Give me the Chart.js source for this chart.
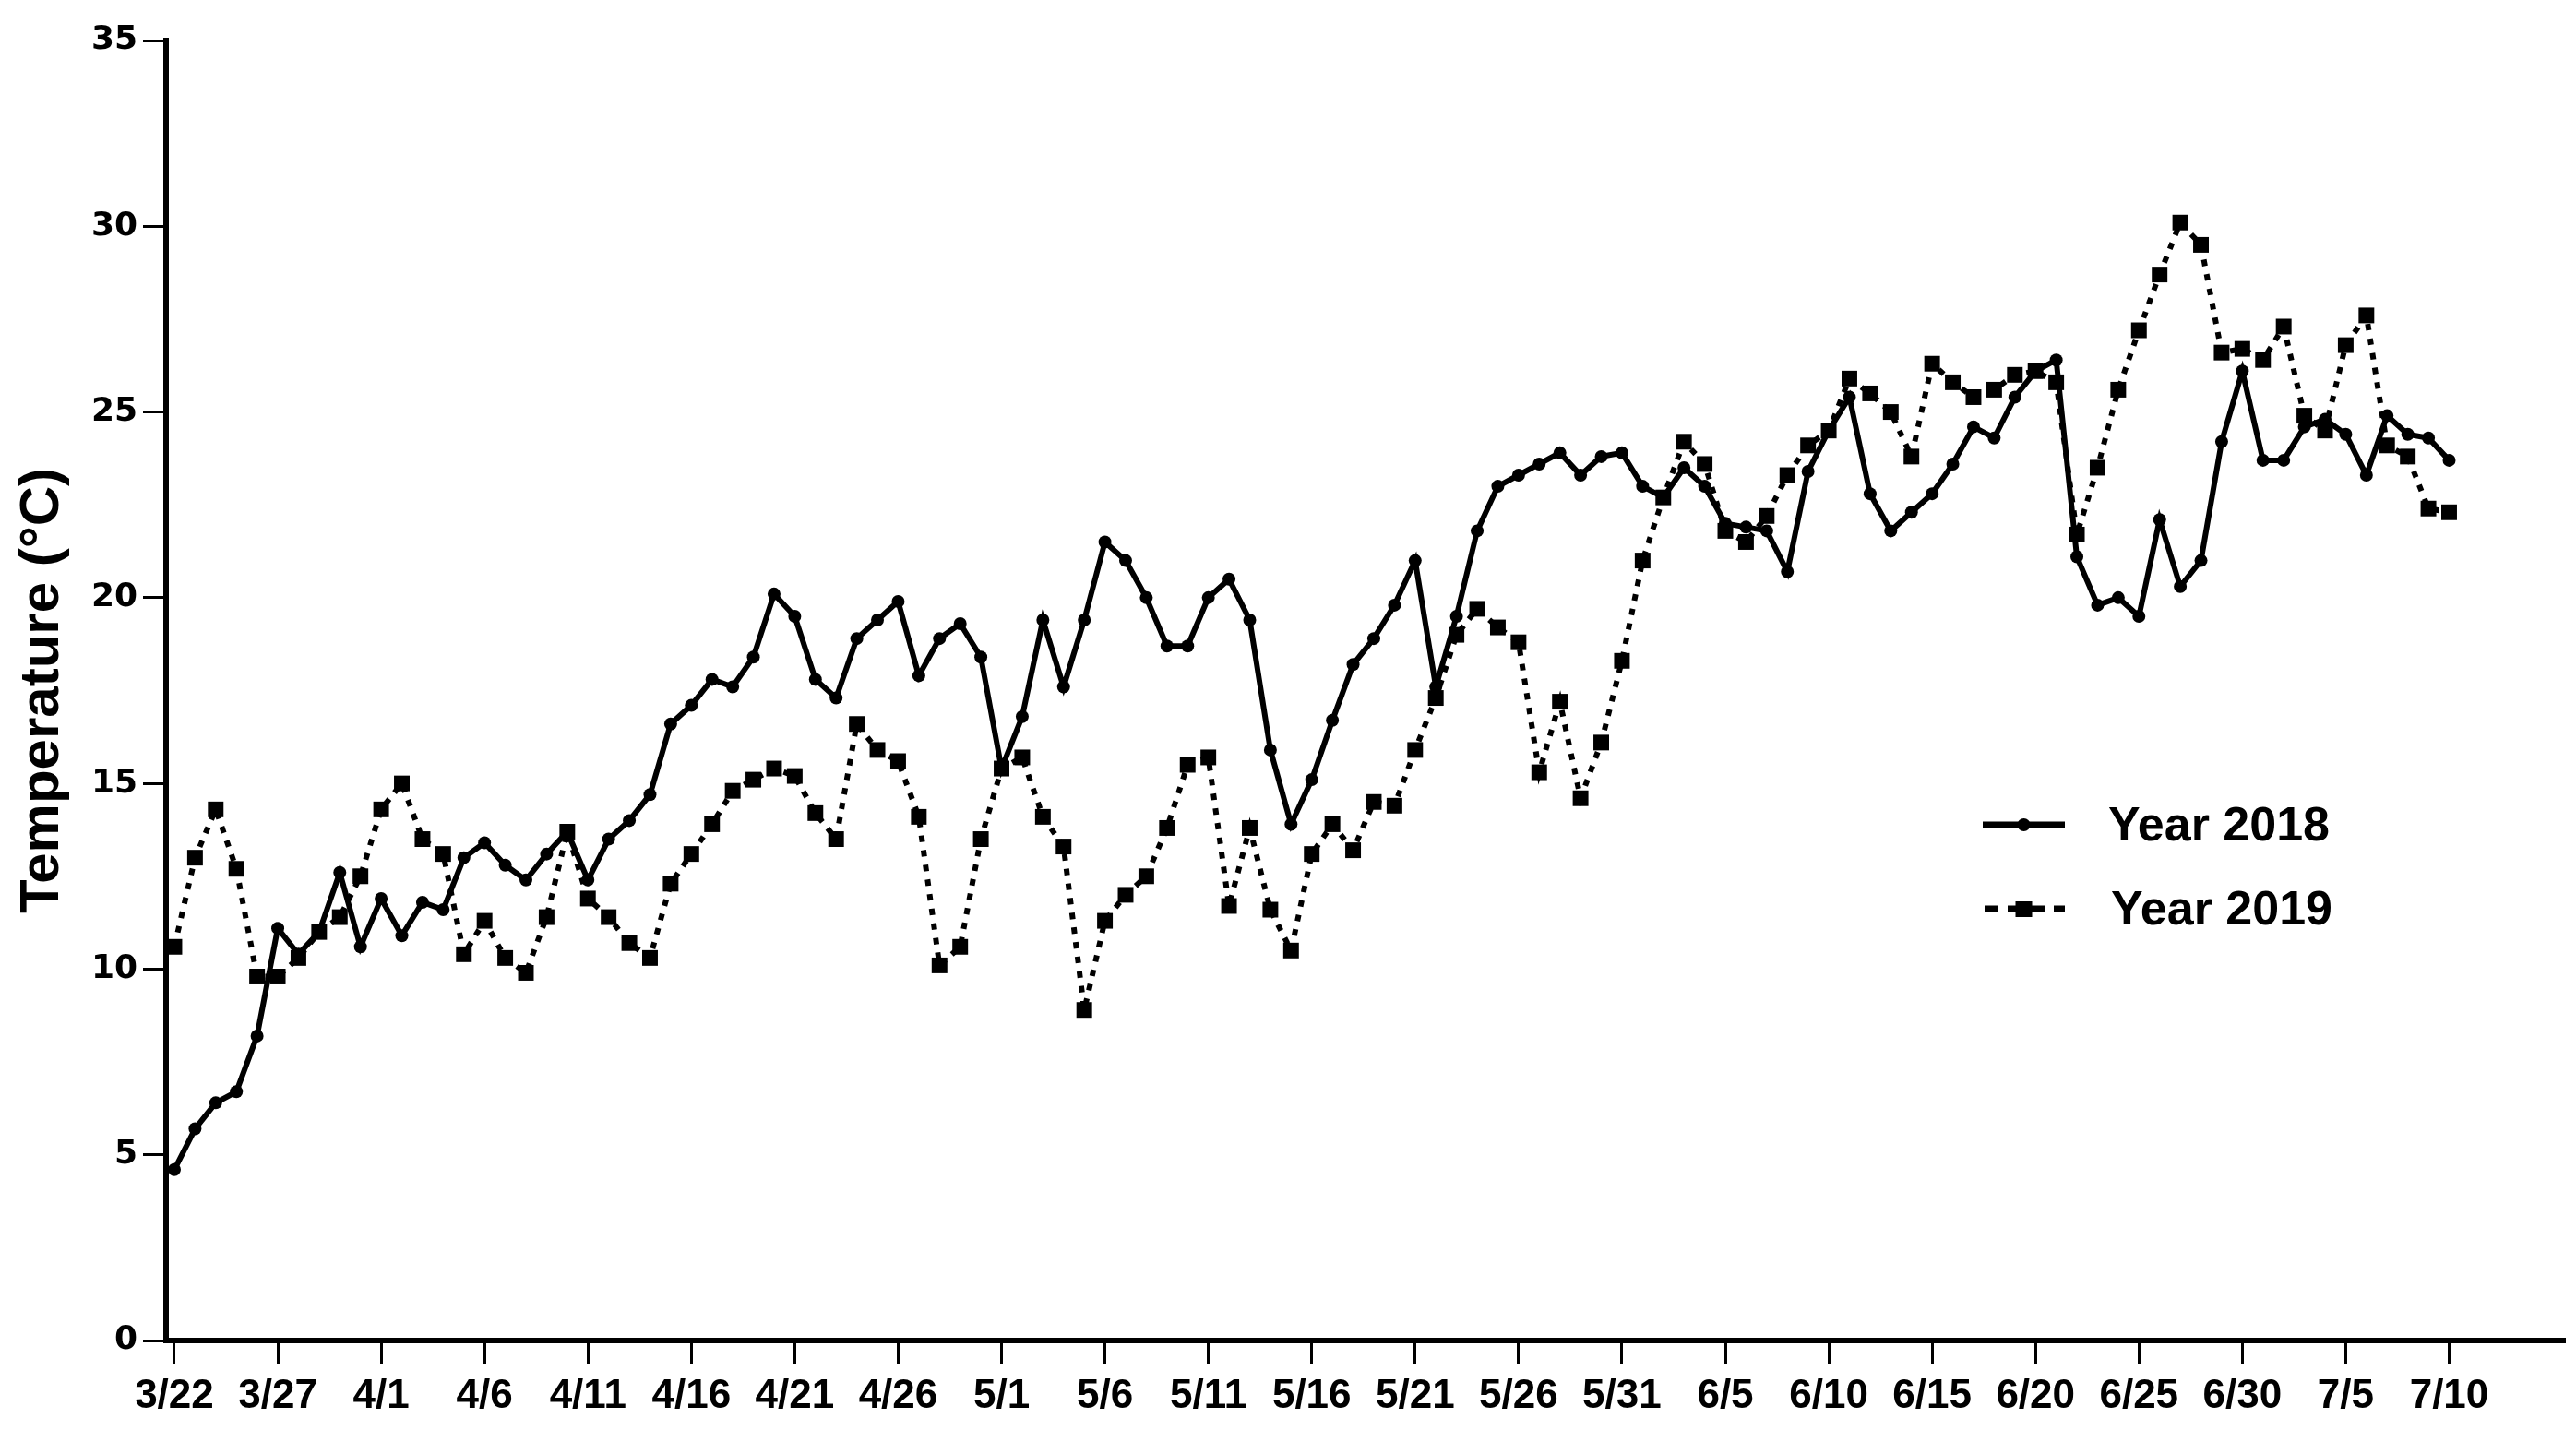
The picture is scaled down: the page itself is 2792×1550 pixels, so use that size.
<!DOCTYPE html>
<html>
<head>
<meta charset="utf-8">
<title>Temperature 2018 vs 2019</title>
<script src="https://cdn.jsdelivr.net/npm/chart.js@4.4.0/dist/chart.umd.min.js"></script>
<style>
  html, body { margin: 0; padding: 0; background: #fff; }
  #wrap { width: 2792px; height: 1550px; }
</style>
</head>
<body>
<div id="wrap"><canvas id="chart" width="2792" height="1550"></canvas></div>
<script>
// tick labels, one every 5 days starting 3/22
const dateTicks = ['3/22', '3/27', '4/1', '4/6', '4/11', '4/16', '4/21', '4/26', '5/1', '5/6', '5/11', '5/16',
  '5/21', '5/26', '5/31', '6/5', '6/10', '6/15', '6/20', '6/25', '6/30', '7/5', '7/10'];

// daily mean temperature (°C), 3/22 .. 7/10
const temp2018 = [
  4.6, 5.7, 6.4, 6.7, 8.2, 11.1, 10.4, 11.0, 12.6, 10.6,
  11.9, 10.9, 11.8, 11.6, 13.0, 13.4, 12.8, 12.4, 13.1, 13.7,
  12.4, 13.5, 14.0, 14.7, 16.6, 17.1, 17.8, 17.6, 18.4, 20.1,
  19.5, 17.8, 17.3, 18.9, 19.4, 19.9, 17.9, 18.9, 19.3, 18.4,
  15.4, 16.8, 19.4, 17.6, 19.4, 21.5, 21.0, 20.0, 18.7, 18.7,
  20.0, 20.5, 19.4, 15.9, 13.9, 15.1, 16.7, 18.2, 18.9, 19.8,
  21.0, 17.6, 19.5, 21.8, 23.0, 23.3, 23.6, 23.9, 23.3, 23.8,
  23.9, 23.0, 22.7, 23.5, 23.0, 22.0, 21.9, 21.8, 20.7, 23.4,
  24.5, 25.4, 22.8, 21.8, 22.3, 22.8, 23.6, 24.6, 24.3, 25.4,
  26.1, 26.4, 21.1, 19.8, 20.0, 19.5, 22.1, 20.3, 21.0, 24.2,
  26.1, 23.7, 23.7, 24.6, 24.8, 24.4, 23.3, 24.9, 24.4, 24.3,
  23.7
];

const temp2019 = [
  10.6, 13.0, 14.3, 12.7, 9.8, 9.8, 10.3, 11.0, 11.4, 12.5,
  14.3, 15.0, 13.5, 13.1, 10.4, 11.3, 10.3, 9.9, 11.4, 13.7,
  11.9, 11.4, 10.7, 10.3, 12.3, 13.1, 13.9, 14.8, 15.1, 15.4,
  15.2, 14.2, 13.5, 16.6, 15.9, 15.6, 14.1, 10.1, 10.6, 13.5,
  15.4, 15.7, 14.1, 13.3, 8.9, 11.3, 12.0, 12.5, 13.8, 15.5,
  15.7, 11.7, 13.8, 11.6, 10.5, 13.1, 13.9, 13.2, 14.5, 14.4,
  15.9, 17.3, 19.0, 19.7, 19.2, 18.8, 15.3, 17.2, 14.6, 16.1,
  18.3, 21.0, 22.7, 24.2, 23.6, 21.8, 21.5, 22.2, 23.3, 24.1,
  24.5, 25.9, 25.5, 25.0, 23.8, 26.3, 25.8, 25.4, 25.6, 26.0,
  26.1, 25.8, 21.7, 23.5, 25.6, 27.2, 28.7, 30.1, 29.5, 26.6,
  26.7, 26.4, 27.3, 24.9, 24.5, 26.8, 27.6, 24.1, 23.8, 22.4,
  22.3
];

const yTicks = [0, 5, 10, 15, 20, 25, 30, 35];

const toPoints = arr => arr.map((v, i) => ({ x: i, y: v }));

// legend drawn inside the plot, right side
const sideLegend = {
  id: 'sideLegend',
  afterDraw(chart) {
    const ctx = chart.ctx;
    const x1 = 2149, x2 = 2238, tx = 2285;
    const rows = [894, 985];
    ctx.save();
    ctx.strokeStyle = '#000';
    ctx.fillStyle = '#000';

    // Year 2018: solid line with dot
    ctx.lineWidth = 7;
    ctx.beginPath();
    ctx.moveTo(x1, rows[0]);
    ctx.lineTo(x2, rows[0]);
    ctx.stroke();
    ctx.beginPath();
    ctx.arc((x1 + x2) / 2, rows[0], 7, 0, Math.PI * 2);
    ctx.fill();

    // Year 2019: dashed line with square
    ctx.setLineDash([15, 10]);
    ctx.beginPath();
    ctx.moveTo(x1 + 2, rows[1]);
    ctx.lineTo(x2, rows[1]);
    ctx.stroke();
    ctx.setLineDash([]);
    ctx.fillRect((x1 + x2) / 2 - 9, rows[1] - 8, 18, 17);

    ctx.font = 'bold 52px "Liberation Sans", Arial, sans-serif';
    ctx.textBaseline = 'middle';
    ctx.textAlign = 'left';
    ctx.fillText('Year 2018', tx, rows[0] + 3);
    ctx.fillText('Year 2019', tx + 3, rows[1] + 3);
    ctx.restore();
  }
};

new Chart(document.getElementById('chart'), {
  type: 'line',
  data: {
    datasets: [
      {
        label: 'Year 2018',
        data: toPoints(temp2018),
        borderColor: '#000',
        backgroundColor: '#000',
        borderWidth: 6,
        pointStyle: 'circle',
        pointRadius: 7,
        pointBorderWidth: 0,
        tension: 0
      },
      {
        label: 'Year 2019',
        data: toPoints(temp2019),
        borderColor: '#000',
        backgroundColor: '#000',
        borderWidth: 6,
        borderDash: [7, 9],
        pointStyle: 'rect',
        pointRadius: 12,
        pointBorderWidth: 0,
        tension: 0
      }
    ]
  },
  options: {
    responsive: false,
    devicePixelRatio: 1,
    animation: false,
    layout: { padding: { left: 10, top: 44, right: 12, bottom: 0 } },
    plugins: {
      legend: { display: false },
      tooltip: { enabled: false }
    },
    scales: {
      x: {
        type: 'linear',
        min: -0.4,
        max: 115.6,
        afterBuildTicks: scale => {
          scale.ticks = dateTicks.map((_, i) => ({ value: i * 5 }));
        },
        afterFit: scale => { scale.height = 97; },
        grid: {
          drawOnChartArea: false,
          drawTicks: true,
          tickLength: 25,
          tickWidth: 3,
          color: '#000'
        },
        border: { display: true, color: '#000', width: 6 },
        ticks: {
          color: '#000',
          padding: 9,
          maxRotation: 0,
          autoSkip: false,
          font: { family: "'Liberation Sans', Arial, sans-serif", size: 44, weight: 'bold' },
          callback: value => dateTicks[Math.round(value / 5)]
        }
      },
      y: {
        min: 0,
        max: 35,
        afterBuildTicks: scale => {
          scale.ticks = yTicks.map(v => ({ value: v }));
        },
        afterFit: scale => { scale.width = 170; },
        grid: {
          drawOnChartArea: false,
          drawTicks: true,
          tickLength: 25,
          tickWidth: 3,
          color: '#000'
        },
        border: { display: true, color: '#000', width: 6 },
        ticks: {
          color: '#000',
          padding: 6,
          font: { family: "'DejaVu Sans', sans-serif", size: 36, weight: 'bold' }
        },
        title: {
          display: true,
          text: 'Temperature (°C)',
          color: '#000',
          padding: { top: 0, bottom: 0 },
          font: { family: "'Liberation Sans', Arial, sans-serif", size: 60, weight: 'bold' }
        }
      }
    }
  },
  plugins: [sideLegend]
});
</script>
</body>
</html>
